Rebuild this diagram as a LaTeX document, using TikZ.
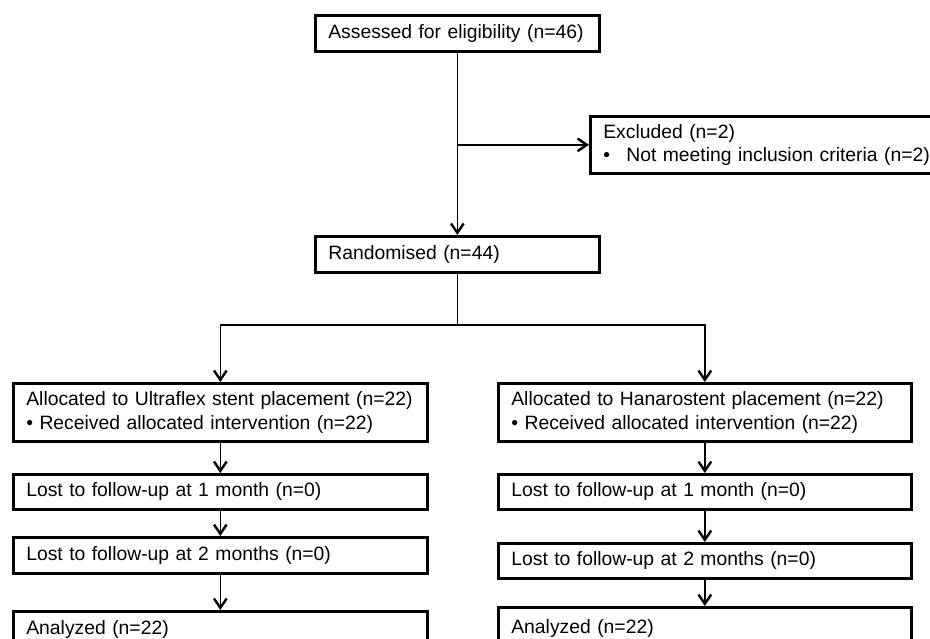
\documentclass[tikz,border=0pt]{standalone}
\usepackage{fontspec}
\setmainfont{Liberation Sans}
\usetikzlibrary{arrows.meta}
\begin{document}
\begin{tikzpicture}[x=0.75pt,y=-0.75pt,
  box/.style={draw, line width=2pt, rectangle, anchor=north west, align=left,
    inner xsep=9.75pt, inner ysep=0pt, font=\fontsize{14.5pt}{17.5pt}\selectfont},
  conn/.style={line width=1pt},
  arr/.style={conn, -{Straight Barb[length=7pt,width=9.5pt,line width=1.8pt]}}]
\useasboundingbox (0,0) rectangle (930,638);
\clip (0,0) rectangle (930,638);
% top
\node[box, minimum width=213pt, text width=193.5pt, minimum height=27pt] (a) at (314,14) {Assessed for eligibility (n=46)};
\node[box, minimum width=270.75pt, text width=251.25pt, minimum height=42.75pt] (ex) at (589,115)
  {Excluded (n=2)\\\makebox[17.25pt][l]{\textbullet}Not meeting inclusion criteria (n=2)};
\node[box, minimum width=213pt, text width=193.5pt, minimum height=27pt] (r) at (314,235) {Randomised (n=44)};
% left column
\node[box, minimum width=310.5pt, text width=291pt, minimum height=43.5pt] (L1) at (12,382)
  {Allocated to Ultraflex stent placement (n=22)\\\textbullet{} Received allocated intervention (n=22)};
\node[box, minimum width=310.5pt, text width=291pt, minimum height=26.25pt] (L2) at (12,473) {Lost to follow-up at 1 month (n=0)};
\node[box, minimum width=310.5pt, text width=291pt, minimum height=27pt] (L3) at (12,536) {Lost to follow-up at 2 months (n=0)};
\node[box, minimum width=310.5pt, text width=291pt, minimum height=27pt] (L4) at (12,610) {Analyzed (n=22)};
% right column
\node[box, minimum width=309.75pt, text width=290.25pt, minimum height=43.5pt] (R1) at (497,382)
  {Allocated to Hanarostent placement (n=22)\\\textbullet{} Received allocated intervention (n=22)};
\node[box, minimum width=309.75pt, text width=290.25pt, minimum height=26.25pt] (R2) at (497,473) {Lost to follow-up at 1 month (n=0)};
\node[box, minimum width=309.75pt, text width=290.25pt, minimum height=26.25pt] (R3) at (497,542) {Lost to follow-up at 2 months (n=0)};
\node[box, minimum width=309.75pt, text width=290.25pt, minimum height=31.5pt] (R4) at (497,606) {Analyzed (n=22)};
% connectors
\draw[arr] (a.south) -- (r.north);
\coordinate (ej) at (a.south |- ex.west);
\draw[arr] (ej) -- (ex.west);
\coordinate (bm) at (r.south |- 0,325);
\draw[conn] (r.south) -- (bm);
\draw[arr] (bm) -| (L1.north);
\draw[arr] (bm) -| (R1.north);
\draw[arr] (L1.south) -- (L2.north);
\draw[arr] (L2.south) -- (L3.north);
\draw[arr] (L3.south) -- (L4.north);
\draw[arr] (R1.south) -- (R2.north);
\draw[arr] (R2.south) -- (R3.north);
\draw[arr] (R3.south) -- (R4.north);
\end{tikzpicture}
\end{document}
